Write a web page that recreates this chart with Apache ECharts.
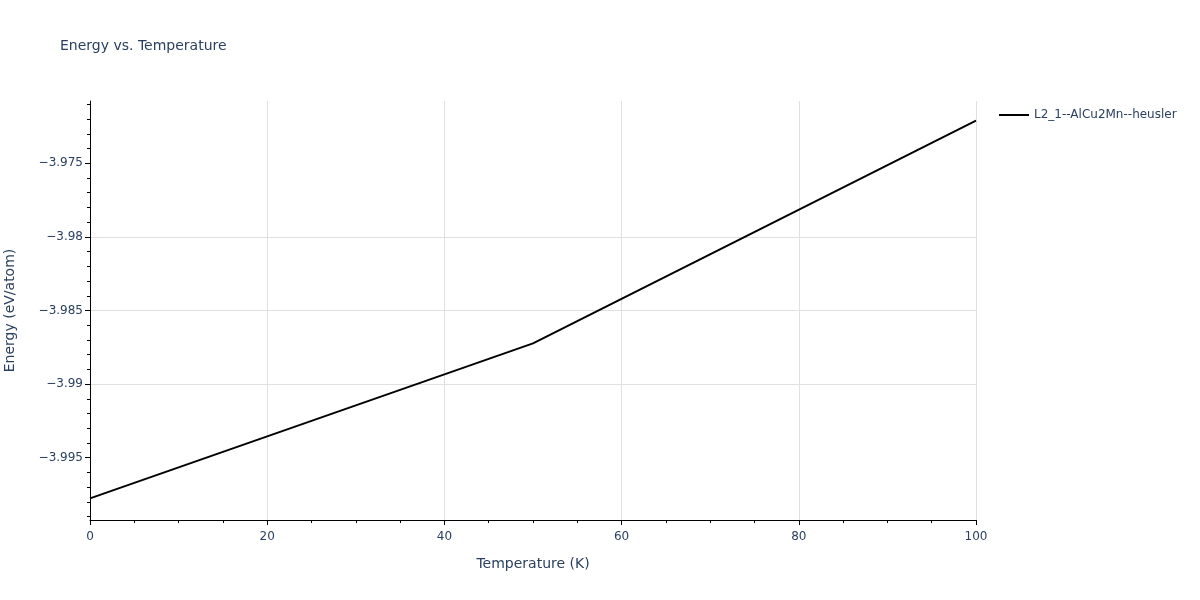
<!DOCTYPE html>
<html>
<head>
<meta charset="utf-8">
<script src="https://cdn.jsdelivr.net/npm/echarts@6/dist/echarts.min.js"></script>
<style>html,body{margin:0;padding:0;background:#fff}#c{width:1200px;height:600px}</style>
</head>
<body>
<div id="c"></div>
<script>
const temperatures = [0, 50, 100];
const energies = [-3.99776, -3.98723, -3.97211];
const seriesName = 'L2_1--AlCu2Mn--heusler';
const yMajorTicks = [-3.995, -3.99, -3.985, -3.98, -3.975];
const yMinorTicks = [-3.999, -3.998, -3.997, -3.996, -3.994, -3.993, -3.992, -3.991, -3.989, -3.988, -3.987, -3.986, -3.984, -3.983, -3.982, -3.981, -3.979, -3.978, -3.977, -3.976, -3.974, -3.973, -3.972, -3.971];
const yMin = -3.99923, yMax = -3.97077;

const fontFamily = '"DejaVu Sans", Verdana, sans-serif';
const textColor = '#2a3f5f';
const fmtY = v => (v < 0 ? '\u2212' : '') + parseFloat(Math.abs(v).toFixed(3));

const chart = echarts.init(document.getElementById('c'));
chart.setOption({
  animation: false,
  textStyle: { fontFamily: fontFamily },
  title: {
    text: 'Energy vs. Temperature',
    left: 55, top: 34,
    textStyle: { fontFamily: fontFamily, fontSize: 14, fontWeight: 'normal', color: textColor }
  },
  legend: {
    data: [seriesName],
    left: 994, top: 104,
    itemWidth: 30, itemHeight: 2,
    itemGap: 5,
    icon: 'rect',
    textStyle: { fontFamily: fontFamily, fontSize: 12, color: textColor }
  },
  grid: { left: 90, right: 224, top: 101, bottom: 80, containLabel: false, outerBoundsMode: 'none' },
  xAxis: {
    type: 'value',
    min: 0, max: 100, interval: 20,
    name: 'Temperature (K)',
    nameLocation: 'middle', nameGap: 37,
    nameTextStyle: { fontFamily: fontFamily, fontSize: 14, color: textColor },
    axisLine: { show: true, lineStyle: { color: '#000', width: 1 } },
    axisTick: { show: true, length: 5, lineStyle: { color: '#000' } },
    minorTick: { show: true, splitNumber: 4, length: 3, lineStyle: { color: '#000' } },
    axisLabel: { fontFamily: fontFamily, fontSize: 12, color: textColor, margin: 11 },
    splitLine: { show: true, lineStyle: { color: '#e0e0e0', width: 1 } }
  },
  yAxis: [{
    type: 'value',
    min: yMin, max: yMax,
    name: 'Energy (eV/atom)',
    nameLocation: 'middle', nameGap: 73,
    nameTextStyle: { fontFamily: fontFamily, fontSize: 14, color: textColor },
    axisLine: { show: true, lineStyle: { color: '#000', width: 1 } },
    axisTick: { show: true, length: 5, customValues: yMajorTicks, lineStyle: { color: '#000' } },
    axisLabel: { fontFamily: fontFamily, fontSize: 12, color: textColor, margin: 7, customValues: yMajorTicks, formatter: fmtY },
    splitLine: { show: true, showMinLine: false, showMaxLine: false, lineStyle: { color: '#e0e0e0', width: 1 } }
  }, {
    type: 'value',
    position: 'left',
    min: yMin, max: yMax,
    axisLine: { show: false },
    axisTick: { show: true, length: 3, customValues: yMinorTicks, lineStyle: { color: '#000' } },
    axisLabel: { show: false },
    splitLine: { show: false }
  }],
  series: [{
    name: seriesName,
    type: 'line',
    yAxisIndex: 0,
    data: temperatures.map((t, i) => [t, energies[i]]),
    showSymbol: false,
    symbol: 'none',
    lineStyle: { color: '#000', width: 2 },
    itemStyle: { color: '#000' }
  }]
});
</script>
</body>
</html>
